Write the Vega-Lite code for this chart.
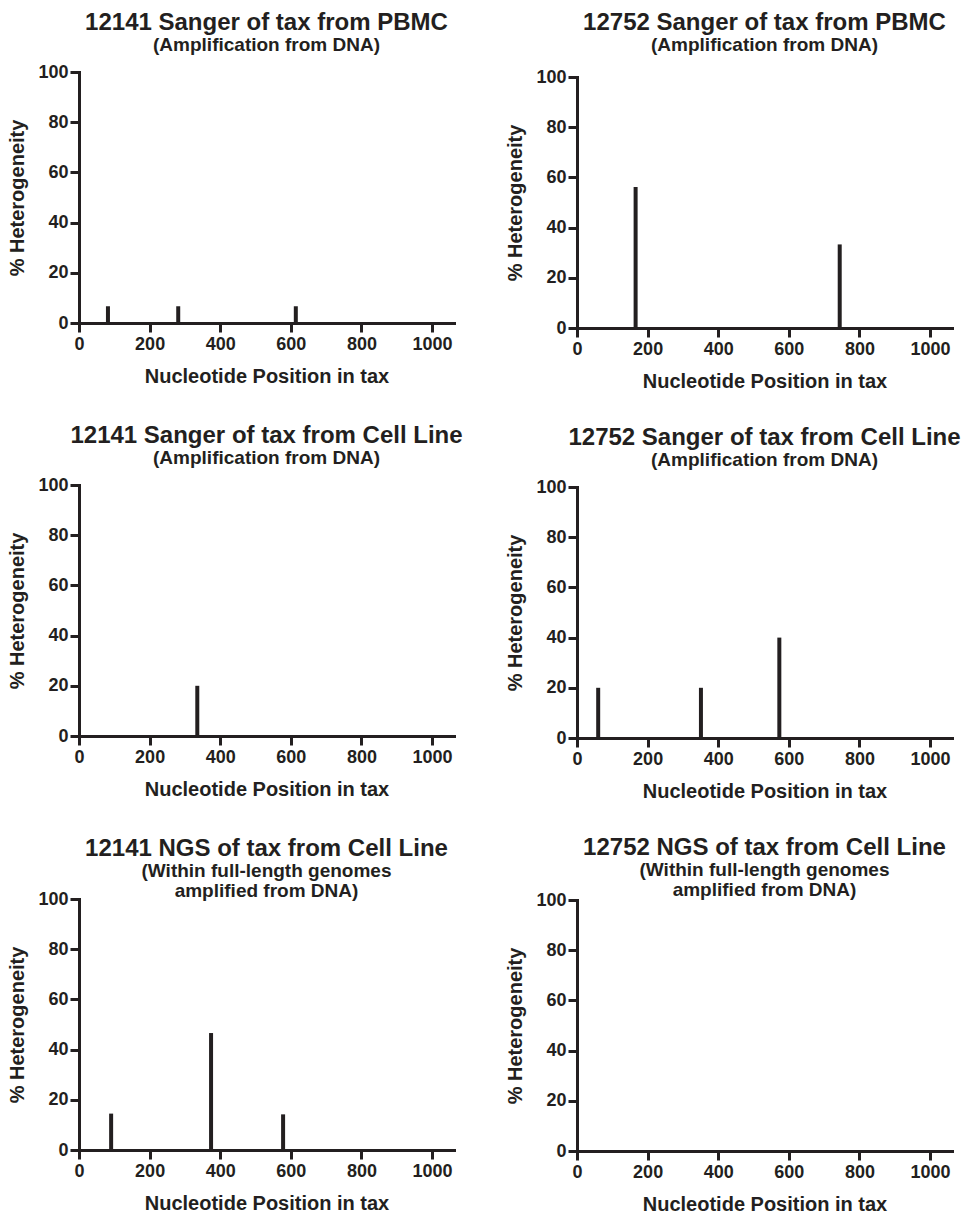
{
  "$schema": "https://vega.github.io/schema/vega-lite/v6.json",
  "padding": {"left": 7, "top": 11, "right": 0, "bottom": 0},
  "background": "white",
  "spacing": 42,
  "datasets": {
    "d": [
      {"panel": "p1", "position": 82, "heterogeneity": 6.67},
      {"panel": "p1", "position": 281, "heterogeneity": 6.67},
      {"panel": "p1", "position": 614, "heterogeneity": 6.67},
      {"panel": "p2", "position": 166, "heterogeneity": 56.2},
      {"panel": "p2", "position": 744, "heterogeneity": 33.3},
      {"panel": "p3", "position": 335, "heterogeneity": 20},
      {"panel": "p4", "position": 60, "heterogeneity": 20},
      {"panel": "p4", "position": 351, "heterogeneity": 20},
      {"panel": "p4", "position": 573, "heterogeneity": 40},
      {"panel": "p5", "position": 91, "heterogeneity": 14.5},
      {"panel": "p5", "position": 374, "heterogeneity": 46.6},
      {"panel": "p5", "position": 578, "heterogeneity": 14.2}
    ]
  },
  "config": {
    "view": {"stroke": null},
    "font": "Liberation Sans",
    "axis": {
      "grid": false,
      "domainColor": "#231f20",
      "domainWidth": 3,
      "domainCap": "square",
      "tickColor": "#231f20",
      "tickWidth": 3,
      "tickSize": 9,
      "labelFont": "Liberation Sans",
      "labelFontWeight": "bold",
      "labelFontSize": 18,
      "labelColor": "#231f20",
      "labelPadding": 2,
      "titleFont": "Liberation Sans",
      "titleFontWeight": "bold",
      "titleFontSize": 20,
      "titleColor": "#231f20"
    },
    "axisX": {"labelPadding": 3, "titlePadding": 13, "labelFlush": false, "labelOverlap": false, "format": "d"},
    "axisY": {"titlePadding": 10, "labelOverlap": false, "format": "d"},
    "title": {
      "font": "Liberation Sans",
      "fontSize": 24,
      "fontWeight": "bold",
      "color": "#231f20",
      "subtitleFont": "Liberation Sans",
      "subtitleFontSize": 19,
      "subtitleFontWeight": "bold",
      "subtitleColor": "#231f20",
      "subtitlePadding": 1,
      "subtitleLineHeight": 20,
      "anchor": "middle",
      "frame": "group",
      "offset": 8
    }
  },
  "hconcat": [
    {
      "spacing": 38,
      "vconcat": [
        {
          "width": 375, "height": 251,
          "title": {"text": "12141 Sanger of tax from PBMC", "subtitle": "(Amplification from DNA)"},
          "data": {"name": "d"},
          "transform": [{"filter": "datum.panel === 'p1'"}],
          "mark": {"type": "rule", "strokeWidth": 4, "strokeCap": "butt", "color": "#231f20"},
          "encoding": {
            "x": {"field": "position", "type": "quantitative", "scale": {"domain": [0, 1062], "nice": false}, "axis": {"title": "Nucleotide Position in tax", "values": [0, 200, 400, 600, 800, 1000]}},
            "y": {"field": "heterogeneity", "type": "quantitative", "scale": {"domain": [0, 100], "nice": false}, "axis": {"title": "% Heterogeneity", "values": [0, 20, 40, 60, 80, 100]}},
            "y2": {"datum": 0}
          }
        },
        {
          "width": 375, "height": 251,
          "title": {"text": "12141 Sanger of tax from Cell Line", "subtitle": "(Amplification from DNA)"},
          "data": {"name": "d"},
          "transform": [{"filter": "datum.panel === 'p3'"}],
          "mark": {"type": "rule", "strokeWidth": 4, "strokeCap": "butt", "color": "#231f20"},
          "encoding": {
            "x": {"field": "position", "type": "quantitative", "scale": {"domain": [0, 1062], "nice": false}, "axis": {"title": "Nucleotide Position in tax", "values": [0, 200, 400, 600, 800, 1000]}},
            "y": {"field": "heterogeneity", "type": "quantitative", "scale": {"domain": [0, 100], "nice": false}, "axis": {"title": "% Heterogeneity", "values": [0, 20, 40, 60, 80, 100]}},
            "y2": {"datum": 0}
          }
        },
        {
          "width": 375, "height": 251,
          "title": {"text": "12141 NGS of tax from Cell Line", "subtitle": ["(Within full-length genomes", "amplified from DNA)"], "offset": -11},
          "data": {"name": "d"},
          "transform": [{"filter": "datum.panel === 'p5'"}],
          "mark": {"type": "rule", "strokeWidth": 4, "strokeCap": "butt", "color": "#231f20"},
          "encoding": {
            "x": {"field": "position", "type": "quantitative", "scale": {"domain": [0, 1062], "nice": false}, "axis": {"title": "Nucleotide Position in tax", "values": [0, 200, 400, 600, 800, 1000]}},
            "y": {"field": "heterogeneity", "type": "quantitative", "scale": {"domain": [0, 100], "nice": false}, "axis": {"title": "% Heterogeneity", "values": [0, 20, 40, 60, 80, 100]}},
            "y2": {"datum": 0}
          }
        }
      ]
    },
    {
      "spacing": 35,
      "vconcat": [
        {
          "width": 375, "height": 256,
          "title": {"text": "12752 Sanger of tax from PBMC", "subtitle": "(Amplification from DNA)", "offset": 13},
          "data": {"name": "d"},
          "transform": [{"filter": "datum.panel === 'p2'"}],
          "mark": {"type": "rule", "strokeWidth": 4, "strokeCap": "butt", "color": "#231f20"},
          "encoding": {
            "x": {"field": "position", "type": "quantitative", "scale": {"domain": [0, 1062], "nice": false}, "axis": {"title": "Nucleotide Position in tax", "values": [0, 200, 400, 600, 800, 1000]}},
            "y": {"field": "heterogeneity", "type": "quantitative", "scale": {"domain": [0, 100], "nice": false, "range": [256, 5]}, "axis": {"title": "% Heterogeneity", "values": [0, 20, 40, 60, 80, 100]}},
            "y2": {"datum": 0}
          }
        },
        {
          "width": 375, "height": 251,
          "title": {"text": "12752 Sanger of tax from Cell Line", "subtitle": "(Amplification from DNA)"},
          "data": {"name": "d"},
          "transform": [{"filter": "datum.panel === 'p4'"}],
          "mark": {"type": "rule", "strokeWidth": 4, "strokeCap": "butt", "color": "#231f20"},
          "encoding": {
            "x": {"field": "position", "type": "quantitative", "scale": {"domain": [0, 1062], "nice": false}, "axis": {"title": "Nucleotide Position in tax", "values": [0, 200, 400, 600, 800, 1000]}},
            "y": {"field": "heterogeneity", "type": "quantitative", "scale": {"domain": [0, 100], "nice": false}, "axis": {"title": "% Heterogeneity", "values": [0, 20, 40, 60, 80, 100]}},
            "y2": {"datum": 0}
          }
        },
        {
          "width": 375, "height": 251,
          "title": {"text": "12752 NGS of tax from Cell Line", "subtitle": ["(Within full-length genomes", "amplified from DNA)"], "offset": -9},
          "data": {"name": "d"},
          "transform": [{"filter": "datum.panel === 'p6'"}],
          "mark": {"type": "rule", "strokeWidth": 4, "strokeCap": "butt", "color": "#231f20"},
          "encoding": {
            "x": {"field": "position", "type": "quantitative", "scale": {"domain": [0, 1062], "nice": false}, "axis": {"title": "Nucleotide Position in tax", "values": [0, 200, 400, 600, 800, 1000]}},
            "y": {"field": "heterogeneity", "type": "quantitative", "scale": {"domain": [0, 100], "nice": false}, "axis": {"title": "% Heterogeneity", "values": [0, 20, 40, 60, 80, 100]}},
            "y2": {"datum": 0}
          }
        }
      ]
    }
  ]
}
